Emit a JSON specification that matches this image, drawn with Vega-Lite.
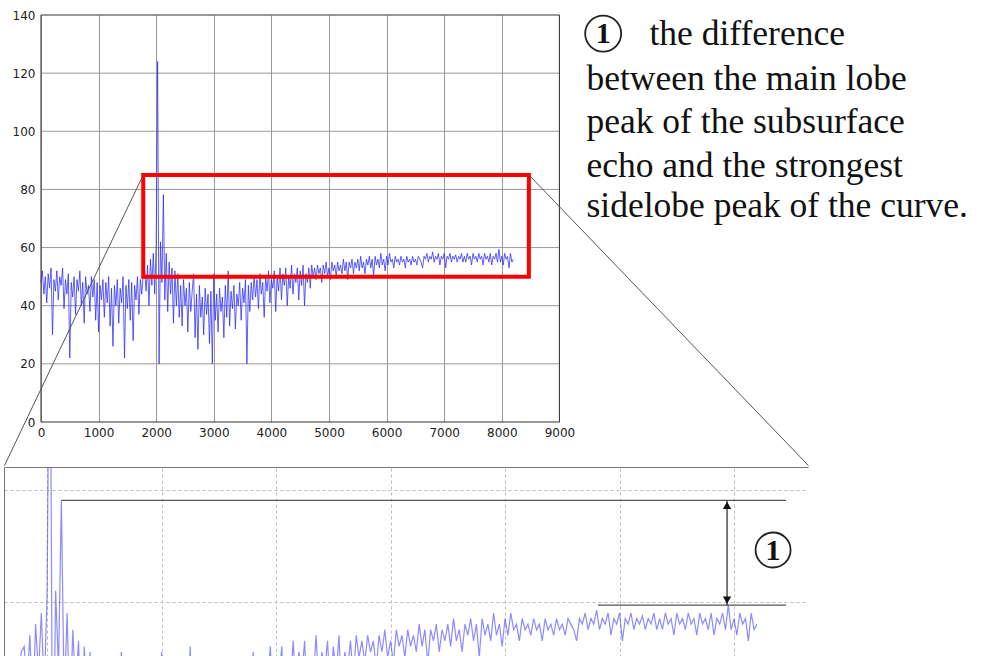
{
"$schema": "https://vega.github.io/schema/vega-lite/v6.json",
"padding": {"left": 3, "top": 9, "right": 5, "bottom": 0},
"background": "white",
"spacing": 0,
"config": {"view": {"stroke": null}, "font": "DejaVu Sans"},
"datasets": {
"sig": [
{"x":0,"y":48},{"x":25,"y":52},{"x":50,"y":44},{"x":75,"y":50},{"x":100,"y":41},{"x":125,"y":51},{"x":150,"y":46},{"x":175,"y":53},{"x":200,"y":30},{"x":225,"y":49},{"x":250,"y":45},{"x":275,"y":52},{"x":300,"y":42},{"x":325,"y":50},{"x":350,"y":47},{"x":375,"y":53},{"x":400,"y":39},{"x":425,"y":49},{"x":450,"y":44},{"x":475,"y":51},{"x":500,"y":22},{"x":525,"y":48},{"x":550,"y":43},{"x":575,"y":50},{"x":600,"y":37},{"x":625,"y":49},{"x":650,"y":45},{"x":675,"y":52},{"x":700,"y":40},{"x":725,"y":48},{"x":750,"y":34},{"x":775,"y":50},{"x":800,"y":44},{"x":825,"y":47},{"x":850,"y":38},{"x":875,"y":50},{"x":900,"y":43},{"x":925,"y":49},{"x":950,"y":35},{"x":975,"y":48},
{"x":1000,"y":31},{"x":1025,"y":47},{"x":1050,"y":42},{"x":1075,"y":49},{"x":1100,"y":36},{"x":1125,"y":48},{"x":1150,"y":41},{"x":1175,"y":50},{"x":1200,"y":33},{"x":1225,"y":46},{"x":1250,"y":26},{"x":1275,"y":47},{"x":1300,"y":40},{"x":1325,"y":49},{"x":1350,"y":34},{"x":1375,"y":46},{"x":1400,"y":41},{"x":1425,"y":50},{"x":1450,"y":22},{"x":1475,"y":47},{"x":1500,"y":39},{"x":1525,"y":49},{"x":1550,"y":35},{"x":1575,"y":48},{"x":1600,"y":28},{"x":1625,"y":47},{"x":1650,"y":42},{"x":1675,"y":50},{"x":1700,"y":37},{"x":1725,"y":49},{"x":1750,"y":44},{"x":1775,"y":51},
{"x":1800,"y":52},{"x":1825,"y":45},{"x":1850,"y":54},{"x":1875,"y":40},{"x":1900,"y":56},{"x":1925,"y":47},{"x":1950,"y":58},{"x":1975,"y":44},{"x":2000,"y":61},{"x":2025,"y":124},{"x":2050,"y":20},{"x":2075,"y":62},{"x":2100,"y":48},{"x":2125,"y":78.2},{"x":2150,"y":42},{"x":2175,"y":58},{"x":2200,"y":38},{"x":2225,"y":55},{"x":2250,"y":44},{"x":2275,"y":53},{"x":2300,"y":34},{"x":2325,"y":52},{"x":2350,"y":40},{"x":2375,"y":51},{"x":2400,"y":36},
{"x":2425,"y":47},{"x":2450,"y":33},{"x":2475,"y":49},{"x":2500,"y":40},{"x":2525,"y":46},{"x":2550,"y":31},{"x":2575,"y":48},{"x":2600,"y":38},{"x":2625,"y":45},{"x":2650,"y":51},{"x":2675,"y":29},{"x":2700,"y":44},{"x":2725,"y":25},{"x":2750,"y":47},{"x":2775,"y":36},{"x":2800,"y":43},{"x":2825,"y":30},{"x":2850,"y":46},{"x":2875,"y":37},{"x":2900,"y":44},{"x":2925,"y":27},{"x":2950,"y":45},{"x":2975,"y":20},{"x":3000,"y":51},{"x":3025,"y":35},{"x":3050,"y":44},{"x":3075,"y":31},{"x":3100,"y":46},{"x":3125,"y":38},{"x":3150,"y":43},{"x":3175,"y":29},{"x":3200,"y":47},{"x":3225,"y":36},{"x":3250,"y":52},{"x":3275,"y":33},{"x":3300,"y":45},{"x":3325,"y":39},{"x":3350,"y":47},{"x":3375,"y":32},{"x":3400,"y":44},{"x":3425,"y":40},{"x":3450,"y":48},{"x":3475,"y":35},{"x":3500,"y":46},{"x":3525,"y":41},{"x":3550,"y":49},{"x":3575,"y":20},{"x":3600,"y":47},{"x":3625,"y":38},{"x":3650,"y":48},{"x":3675,"y":42},{"x":3700,"y":50},
{"x":3725,"y":43},{"x":3750,"y":49},{"x":3775,"y":39},{"x":3800,"y":51},{"x":3825,"y":44},{"x":3850,"y":48},{"x":3875,"y":36},{"x":3900,"y":50},{"x":3925,"y":45},{"x":3950,"y":52},{"x":3975,"y":41},{"x":4000,"y":49},{"x":4025,"y":46},{"x":4050,"y":52},{"x":4075,"y":38},{"x":4100,"y":50},{"x":4125,"y":45},{"x":4150,"y":53},{"x":4175,"y":42},{"x":4200,"y":51},{"x":4225,"y":47},{"x":4250,"y":53},{"x":4275,"y":40},{"x":4300,"y":50},{"x":4325,"y":46},{"x":4350,"y":54},{"x":4375,"y":44},{"x":4400,"y":51},{"x":4425,"y":48},{"x":4450,"y":53},{"x":4475,"y":42},{"x":4500,"y":52},{"x":4525,"y":47},{"x":4550,"y":54},{"x":4575,"y":40},{"x":4600,"y":51},{"x":4625,"y":48},{"x":4650,"y":53},{"x":4675,"y":46},{"x":4700,"y":54},
{"x":4725,"y":50},{"x":4750,"y":53},{"x":4775,"y":49},{"x":4800,"y":54},{"x":4825,"y":51},{"x":4850,"y":53},{"x":4875,"y":48},{"x":4900,"y":54},{"x":4925,"y":51},{"x":4950,"y":55},{"x":4975,"y":50},{"x":5000,"y":53},{"x":5025,"y":49},{"x":5050,"y":55},{"x":5075,"y":52},{"x":5100,"y":54},{"x":5125,"y":50},{"x":5150,"y":55},{"x":5175,"y":52},{"x":5200,"y":54},{"x":5225,"y":51},{"x":5250,"y":56},{"x":5275,"y":52},{"x":5300,"y":55},{"x":5325,"y":49},{"x":5350,"y":55},{"x":5375,"y":53},{"x":5400,"y":56},{"x":5425,"y":51},{"x":5450,"y":55},{"x":5475,"y":53},{"x":5500,"y":56},{"x":5525,"y":52},{"x":5550,"y":57},{"x":5575,"y":53},{"x":5600,"y":55},{"x":5625,"y":51},{"x":5650,"y":56},{"x":5675,"y":54},{"x":5700,"y":57},{"x":5725,"y":53},{"x":5750,"y":56},{"x":5775,"y":50},{"x":5800,"y":57},{"x":5825,"y":54},{"x":5850,"y":56},{"x":5875,"y":53},{"x":5900,"y":58},{"x":5925,"y":54},{"x":5950,"y":56},{"x":5975,"y":52},
{"x":6000,"y":57},{"x":6025,"y":54},{"x":6050,"y":58},{"x":6075,"y":55},{"x":6100,"y":56},{"x":6125,"y":53},{"x":6150,"y":57},{"x":6175,"y":55},{"x":6200,"y":56},{"x":6225,"y":54},{"x":6250,"y":57},{"x":6275,"y":55},{"x":6300,"y":56},{"x":6325,"y":53},{"x":6350,"y":57},{"x":6375,"y":55},{"x":6400,"y":56},{"x":6425,"y":54},{"x":6450,"y":57},{"x":6475,"y":55},{"x":6500,"y":56},{"x":6525,"y":54},{"x":6550,"y":57},{"x":6575,"y":56},{"x":6600,"y":55},{"x":6625,"y":53},{"x":6650,"y":57},{"x":6675,"y":56},{"x":6700,"y":58},{"x":6725,"y":55},{"x":6750,"y":57},{"x":6775,"y":56},{"x":6800,"y":58.5},{"x":6825,"y":55},{"x":6850,"y":57},{"x":6875,"y":56},{"x":6900,"y":58},{"x":6925,"y":54},{"x":6950,"y":57},{"x":6975,"y":56},
{"x":7000,"y":58},{"x":7025,"y":53},{"x":7050,"y":57},{"x":7075,"y":56},{"x":7100,"y":58},{"x":7125,"y":55},{"x":7150,"y":57},{"x":7175,"y":56},{"x":7200,"y":57.5},{"x":7225,"y":55},{"x":7250,"y":57},{"x":7275,"y":56},{"x":7300,"y":58},{"x":7325,"y":55},{"x":7350,"y":57},{"x":7375,"y":55},{"x":7400,"y":58},{"x":7425,"y":56},{"x":7450,"y":57},{"x":7475,"y":54},{"x":7500,"y":58},{"x":7525,"y":56},{"x":7550,"y":57},{"x":7575,"y":55},{"x":7600,"y":58},{"x":7625,"y":56},{"x":7650,"y":57},{"x":7675,"y":54},{"x":7700,"y":58},{"x":7725,"y":56},{"x":7750,"y":57},{"x":7775,"y":55},{"x":7800,"y":58},{"x":7825,"y":54},{"x":7850,"y":57},{"x":7875,"y":56},{"x":7900,"y":58},{"x":7925,"y":55},{"x":7950,"y":59.4},{"x":7975,"y":55},
{"x":8000,"y":57},{"x":8025,"y":54},{"x":8050,"y":58},{"x":8075,"y":56},{"x":8100,"y":57},{"x":8125,"y":53},{"x":8150,"y":58},{"x":8175,"y":55},{"x":8200,"y":56}
]
},
"vconcat": [
{
"width": 555.4,
"height": 407,
"layer": [
{
"data": {"values": [{"gy": 20}, {"gy": 40}, {"gy": 60}, {"gy": 80}, {"gy": 100}, {"gy": 120}]},
"mark": {"type": "rule", "color": "#999", "strokeWidth": 1},
"encoding": {
"x": {"datum": 0, "type": "quantitative"},
"x2": {"datum": 9000},
"y": {"field": "gy", "type": "quantitative", "title": null}
}
},
{
"data": {"name": "sig"},
"mark": {"type": "line", "color": "#2a2aff", "strokeWidth": 1, "opacity": 0.75},
"encoding": {
"x": {"field": "x", "type": "quantitative", "title": null,
"scale": {"domain": [-642, 9000], "nice": false, "zero": false},
"axis": {"values": [0,1000,2000,3000,4000,5000,6000,7000,8000,9000], "format": "d", "ticks": false, "domain": false, "grid": true, "gridColor": "#999", "gridOpacity": 1, "gridWidth": 1, "labelFont": "DejaVu Sans", "labelFontSize": 12, "labelColor": "#222", "labelPadding": 5, "labelFlush": false, "labelOverlap": false}},
"y": {"field": "y", "type": "quantitative", "title": null,
"scale": {"domain": [0, 140], "nice": false, "zero": false},
"axis": {"values": [0,20,40,60,80,100,120,140], "format": "d", "offset": -37, "ticks": false, "domain": false, "grid": false, "labelFont": "DejaVu Sans", "labelFontSize": 12, "labelColor": "#222", "labelPadding": 6, "labelOverlap": false}}
}
},
{
"data": {"values": [{"fx1": 0, "fx2": 9000, "fy1": 0, "fy2": 140}]},
"mark": {"type": "rect", "fill": null, "stroke": "#333", "strokeWidth": 1},
"encoding": {
"x": {"field": "fx1", "type": "quantitative", "title": null},
"x2": {"field": "fx2"},
"y": {"field": "fy1", "type": "quantitative", "title": null},
"y2": {"field": "fy2"}
}
},
{
"data": {"values": [{"bx1": 1775, "bx2": 8470, "by1": 50, "by2": 85}]},
"mark": {"type": "rect", "fill": null, "stroke": "#ff0000", "strokeWidth": 4},
"encoding": {
"x": {"field": "bx1", "type": "quantitative", "title": null},
"x2": {"field": "bx2"},
"y": {"field": "by1", "type": "quantitative", "title": null},
"y2": {"field": "by2"}
}
},
{
"data": {"values": [{"cx1": 1775, "cy1": 85, "cx2": -634, "cy2": -15}, {"cx1": 8470, "cy1": 85, "cx2": 13325, "cy2": -15}]},
"mark": {"type": "rule", "color": "#555", "strokeWidth": 1},
"encoding": {
"x": {"field": "cx1", "type": "quantitative", "title": null},
"y": {"field": "cy1", "type": "quantitative", "title": null},
"x2": {"field": "cx2"},
"y2": {"field": "cy2"}
}
},
{
"data": {"values": [
{"tx": 10564, "ty": 129.8, "t": "the difference"},
{"tx": 9470, "ty": 114.3, "t": "between the main lobe"},
{"tx": 9470, "ty": 99.5, "t": "peak of the subsurface"},
{"tx": 9470, "ty": 84.4, "t": "echo and the strongest"},
{"tx": 9470, "ty": 70.4, "t": "sidelobe peak of the curve."}
]},
"mark": {"type": "text", "font": "Liberation Serif", "fontSize": 35.5, "align": "left", "baseline": "alphabetic", "color": "#111"},
"encoding": {
"x": {"field": "tx", "type": "quantitative", "title": null},
"y": {"field": "ty", "type": "quantitative", "title": null},
"text": {"field": "t"}
}
},
{
"data": {"values": [{"px": 9760, "py": 133.6}]},
"mark": {"type": "point", "shape": "circle", "filled": false, "size": 1300, "stroke": "#222", "strokeWidth": 1.8, "opacity": 1},
"encoding": {
"x": {"field": "px", "type": "quantitative", "title": null},
"y": {"field": "py", "type": "quantitative", "title": null}
}
},
{
"data": {"values": [{"nx": 9760, "ny": 130.2, "n": "1"}]},
"mark": {"type": "text", "font": "Liberation Serif", "fontSize": 30, "fontWeight": "bold", "align": "center", "baseline": "alphabetic", "color": "#111"},
"encoding": {
"x": {"field": "nx", "type": "quantitative", "title": null},
"y": {"field": "ny", "type": "quantitative", "title": null},
"text": {"field": "n"}
}
}
]
},
{
"width": 804,
"height": 190,
"layer": [
{
"data": {"name": "sig"},
"mark": {"type": "line", "color": "#4040ff", "strokeWidth": 1.2, "opacity": 0.6, "clip": true},
"encoding": {
"x": {"field": "x", "type": "quantitative", "title": null,
"scale": {"domain": [1624, 8646], "nice": false, "zero": false},
"axis": {"orient": "top", "values": [2000,3000,4000,5000,6000,7000,8000], "labels": false, "ticks": false, "domain": true, "domainColor": "#777", "domainWidth": 1, "grid": true, "gridColor": "#bbb", "gridDash": [3, 3], "gridOpacity": 1, "gridWidth": 1}},
"y": {"field": "y", "type": "quantitative", "title": null,
"scale": {"domain": [50.1, 84.2], "nice": false, "zero": false},
"axis": {"values": [60, 80], "labels": false, "ticks": false, "domain": true, "domainColor": "#777", "domainWidth": 1, "grid": true, "gridColor": "#bbb", "gridDash": [3, 3], "gridOpacity": 1, "gridWidth": 1}}
}
},
{
"mark": {"type": "rule", "color": "#777", "strokeWidth": 1},
"encoding": {"x": {"datum": 8646}}
},
{
"data": {"values": [{"hx1": 2125, "hx2": 8454, "hy": 78.2}, {"hx1": 6812, "hx2": 8454, "hy": 59.4}]},
"mark": {"type": "rule", "color": "#555", "strokeWidth": 1.2},
"encoding": {
"x": {"field": "hx1", "type": "quantitative", "title": null},
"x2": {"field": "hx2"},
"y": {"field": "hy", "type": "quantitative", "title": null}
}
},
{
"data": {"values": [{"ax": 7939, "ay1": 78.2, "ay2": 59.4}]},
"mark": {"type": "rule", "color": "#222", "strokeWidth": 1.2},
"encoding": {
"x": {"field": "ax", "type": "quantitative", "title": null},
"y": {"field": "ay1", "type": "quantitative", "title": null},
"y2": {"field": "ay2"}
}
},
{
"data": {"values": [{"tx": 7939, "ty": 77.3, "s": "triangle-up"}, {"tx": 7939, "ty": 60.3, "s": "triangle-down"}]},
"mark": {"type": "point", "filled": true, "size": 70, "color": "#111", "opacity": 1},
"encoding": {
"x": {"field": "tx", "type": "quantitative", "title": null},
"y": {"field": "ty", "type": "quantitative", "title": null},
"shape": {"field": "s", "type": "nominal", "scale": {"domain": ["triangle-up", "triangle-down"], "range": ["triangle-up", "triangle-down"]}, "legend": null}
}
},
{
"data": {"values": [{"px": 8341, "py": 69.3}]},
"mark": {"type": "point", "shape": "circle", "filled": false, "size": 1225, "stroke": "#222", "strokeWidth": 1.8, "opacity": 1},
"encoding": {
"x": {"field": "px", "type": "quantitative", "title": null},
"y": {"field": "py", "type": "quantitative", "title": null}
}
},
{
"data": {"values": [{"nx": 8341, "ny": 67.5, "n": "1"}]},
"mark": {"type": "text", "font": "Liberation Serif", "fontSize": 30, "fontWeight": "bold", "align": "center", "baseline": "alphabetic", "color": "#111"},
"encoding": {
"x": {"field": "nx", "type": "quantitative", "title": null},
"y": {"field": "ny", "type": "quantitative", "title": null},
"text": {"field": "n"}
}
}
]
}
]
}
